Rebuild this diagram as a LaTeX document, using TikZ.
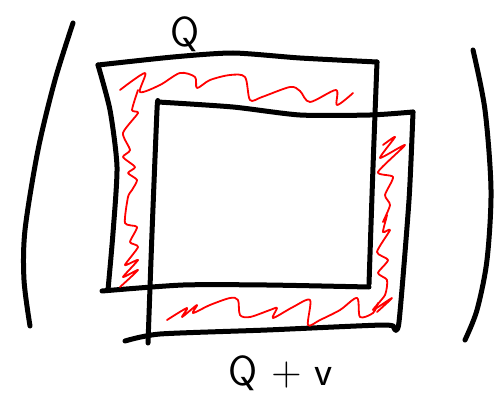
\documentclass[tikz,border=0pt]{standalone}
\usepackage{xcolor}
\usepackage{tikz}
\usetikzlibrary{positioning}

\begin{document}
\begin{tikzpicture}[x=1pt, y=-1pt, every node/.style={font=\fontsize{42}{46}\sffamily\selectfont},
  inkline/.style={line width=5pt, line cap=round, line join=round},
  scribble/.style={red, line width=1.8pt, line cap=round, line join=round}]
\useasboundingbox (0,0) rectangle (494,393);
% parentheses
\draw[inkline] plot[smooth] coordinates {(73,23) (55,80) (38,150) (25,230) (24,280) (30,326)};
\draw[inkline] plot[smooth] coordinates {(473,50) (485,110) (491,190) (487,260) (477,310) (465,340)};
% square Q
\draw[inkline] plot[smooth, tension=0.4] coordinates {(108,290) (113,233) (117,167) (110,110) (98,65)};
\draw[inkline] plot[smooth, tension=0.4] coordinates {(98,65) (173,57) (233,53) (300,58) (377,62)};
\draw[inkline] plot[smooth, tension=0.4] coordinates {(377,62) (373,167) (369,284)};
\draw[inkline] plot[smooth, tension=0.4] coordinates {(369,287) (267,285) (183,285) (102,291)};
% square Q+v
\draw[inkline] plot[smooth, tension=0.4] coordinates {(148,343) (152,233) (157,110) (158,102)};
\draw[inkline] plot[smooth, tension=0.4] coordinates {(158,102) (233,107) (300,115) (370,115) (413,112)};
\draw[inkline] plot[smooth, tension=0.4] coordinates {(413,112) (409,200) (399,322) (394,328)};
\draw[inkline] plot[smooth, tension=0.4] coordinates {(394,328) (383,325) (267,330) (160,334) (125,341)};
% symmetric difference
\draw[scribble] plot[smooth, tension=0.5] coordinates {(120,90) (145,73) (140,92) (160,85) (180,73) (195,77) (197,88) (210,80) (230,75) (245,77) (250,100) (262,97) (290,87) (300,91) (310,102) (336,90) (337,105) (353,93)};
\draw[scribble] plot[smooth, tension=0.4] coordinates {(138,90) (132,110) (138,113) (123,133) (130,150) (123,157) (135,167) (128,173) (137,180) (132,190) (128,197) (125,223) (137,227) (130,242) (138,247) (125,265) (138,260) (123,277) (138,270) (120,287)};
\draw[scribble] plot[smooth, tension=0.4] coordinates {(383,145) (395,137) (380,158) (405,145) (378,172) (393,177) (385,195) (390,205) (383,222) (387,215) (383,232) (390,230) (377,252) (388,260) (378,273) (387,280) (385,295) (373,310) (392,298) (377,312)};
\draw[scribble] plot[smooth, tension=0.5] coordinates {(167,320) (187,308) (182,317) (197,305) (193,313) (210,305) (230,298) (238,300) (240,315) (250,317) (270,310) (277,308) (273,318) (293,307) (310,300) (308,325) (320,320) (340,310) (357,298) (360,317) (373,313) (378,303)};
% labels
\node (qlabel) at (185,34) {Q};
\node (qvlabel) at (281,373) {Q + v};
\end{tikzpicture}
\end{document}
